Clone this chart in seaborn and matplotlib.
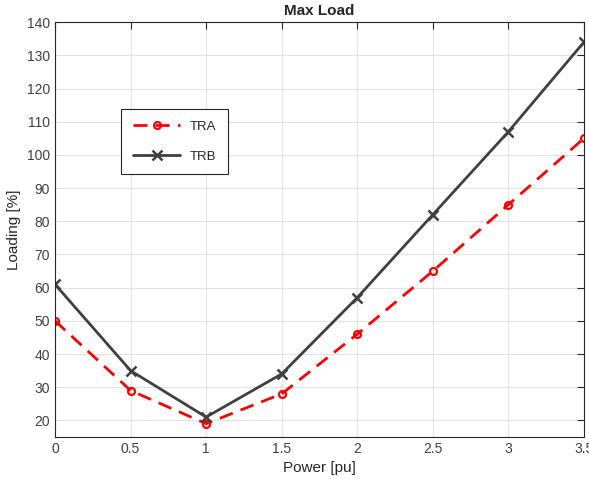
import pandas as pd
import matplotlib
matplotlib.use("Agg")
import matplotlib.pyplot as plt
import seaborn as sns

power = [0, 0.5, 1, 1.5, 2, 2.5, 3, 3.5]
tra = [50, 29, 19, 28, 46, 65, 85, 105]
trb = [61, 35, 21, 34, 57, 82, 107, 134]

sns.set_style("whitegrid")
plt.rcParams['font.family'] = ['Liberation Sans', 'DejaVu Sans']

df = pd.DataFrame({'Power': power, 'TRA': tra, 'TRB': trb})

fig = plt.figure(figsize=(5.89, 4.79), dpi=100)
ax = fig.add_axes([0.0934, 0.0877, 0.898, 0.866])

sns.lineplot(data=df, x='Power', y='TRA', ax=ax, color='#ff0000', linestyle=(0, (5, 3)),
             linewidth=2, marker='o', markersize=5, markerfacecolor='none',
             markeredgecolor='#ff0000', markeredgewidth=1.6)
sns.lineplot(data=df, x='Power', y='TRB', ax=ax, color='#404040', linestyle='-',
             linewidth=2, marker='x', markersize=7, markeredgecolor='#404040',
             markeredgewidth=1.8)

ax.set_xlim(0, 3.5)
ax.set_ylim(15, 140)
ax.set_xticks(power)
ax.set_xticklabels(['0', '0.5', '1', '1.5', '2', '2.5', '3', '3.5'])
ax.set_yticks(range(20, 141, 10))
ax.grid(True, color='#e3e3e3', linewidth=0.8)
ax.tick_params(direction='in', length=5, top=True, right=True, colors='#262626',
               labelsize=10, width=0.8)
ax.tick_params(labelcolor='#404040')
for side in ax.spines.values():
    side.set_visible(True)
    side.set_color('#262626')
    side.set_linewidth(0.8)

ax.set_xlabel('Power [pu]', fontsize=11, color='#262626')
ax.set_ylabel('Loading [%]', fontsize=11, color='#262626')
ax.set_title('Max Load', fontsize=11, fontweight='bold', pad=5)

lines = ax.get_lines()
leg = ax.legend(lines[:2], ['TRA', 'TRB'], loc='upper left',
                bbox_to_anchor=(121 / 589, 1 - 109 / 479),
                bbox_transform=fig.transFigure, borderaxespad=0, fancybox=False,
                framealpha=1, edgecolor='#262626', fontsize=9.5, handlelength=3.6,
                labelspacing=1.3, borderpad=0.9, handletextpad=0.7)
leg.get_frame().set_linewidth(0.8)

fig.savefig('out.png', dpi=100)
